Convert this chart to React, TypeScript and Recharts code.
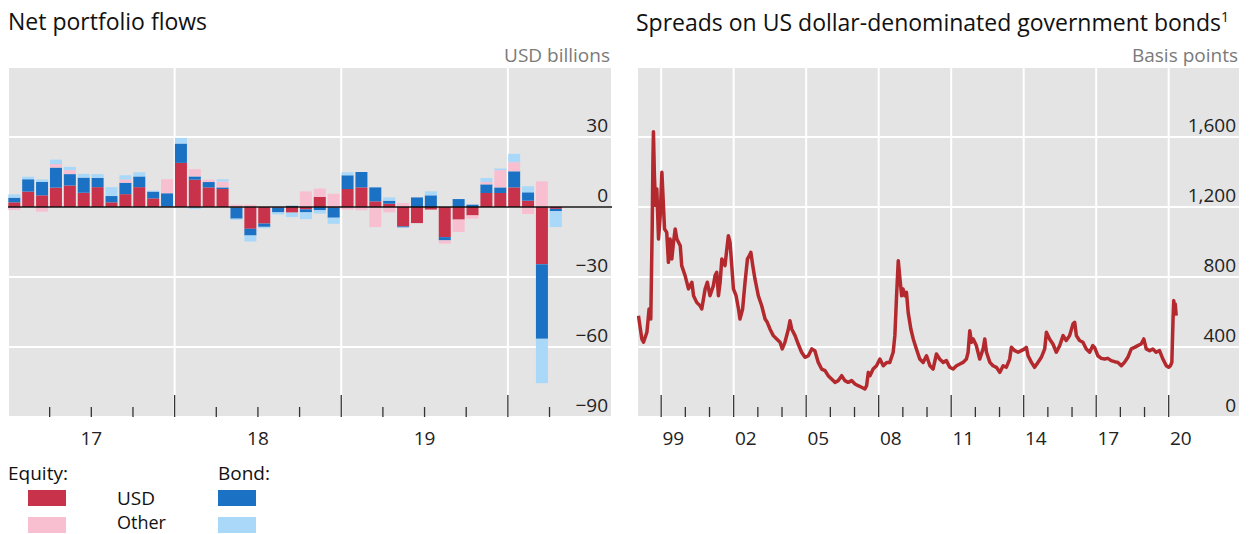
import React from 'react';
import { BarChart, Bar, LineChart, Line, XAxis, YAxis, CartesianGrid, ReferenceLine } from 'recharts';

// monthly net flows, Jan 2017 - Apr 2020, USD billions
const flowStartYear = 2017;
const equityUsd = [
  2.0, 6.6, 5.0, 8.3, 9.2, 6.1, 8.5, 2.0, 5.5, 8.5, 3.7, 0.3,
  18.9, 11.7, 8.4, 7.7, -0.3, -9.3, -7.1, -0.3, -2.4, -1.0, 4.3, -0.3,
  7.7, 8.4, 2.4, 1.4, -8.3, -6.9, -1.1, -12.9, -5.4, -3.6, 6.0, 6.0,
  8.4, 2.7, -24.5, -0.8,
];
const bondUsd = [
  2.0, 5.3, 5.8, 8.6, 4.9, 6.5, 4.0, 2.7, 4.9, 4.6, 2.9, 5.6,
  8.3, 1.4, 2.3, 0.7, -4.7, -2.9, -1.4, -2.0, 0.5, -1.3, -1.4, -4.3,
  5.9, 6.6, 6.0, 1.3, -0.4, 4.1, 5.0, -1.4, 3.4, 1.0, 3.7, 2.4,
  6.9, 3.6, -32.0, -1.0,
];
const equityOther = [
  -1.3, 0, -2.0, 1.5, 1.7, 0, 0, 0, 1.4, 0, 0, 6.0,
  0, 3.1, 1.0, 2.5, 1.0, 1.0, 0, 0, 0, 6.7, 3.6, 5.7,
  -1.1, -1.4, -8.6, -2.3, 1.7, 0, 0, -1.4, -5.3, -1.4, 1.0, 7.4,
  3.9, -3.0, 11.0, 0,
];
const bondOther = [
  1.4, 1.1, 1.0, 1.9, 1.4, 1.6, 1.6, 3.8, 1.8, 1.8, 0.4, 0,
  2.4, -0.8, 0, 1.0, -0.5, -2.6, -0.6, -0.9, -1.9, -2.9, -1.4, -2.6,
  1.3, 0, 0, 1.4, 0, 0, 1.7, 0, 0, 0, 1.7, 0.7,
  3.6, 2.6, -19.0, -6.8,
];
const flowYearLabels = ['17', '18', '19'];
const flowYTicks = [30, 0, -30, -60, -90];

// EM sovereign spreads, basis points (decimal year, value)
const spreadTime = [
  1998.06, 1998.20, 1998.27, 1998.41, 1998.50, 1998.57, 1998.63, 1998.66, 1998.68, 1998.72,
  1998.77, 1998.82, 1998.89, 1998.96, 1999.03, 1999.10, 1999.14, 1999.23, 1999.30, 1999.37,
  1999.44, 1999.51, 1999.58, 1999.65, 1999.79, 1999.85, 1999.99, 2000.13, 2000.27, 2000.34,
  2000.47, 2000.61, 2000.68, 2000.82, 2000.91, 2001.02, 2001.16, 2001.23, 2001.30, 2001.37,
  2001.44, 2001.51, 2001.64, 2001.78, 2001.85, 2001.92, 2001.99, 2002.10, 2002.20, 2002.26,
  2002.37, 2002.47, 2002.57, 2002.65, 2002.71, 2002.79, 2002.88, 2003.02, 2003.16, 2003.30,
  2003.39, 2003.50, 2003.64, 2003.78, 2003.92, 2004.01, 2004.12, 2004.26, 2004.33, 2004.40,
  2004.54, 2004.67, 2004.81, 2004.95, 2005.09, 2005.23, 2005.36, 2005.50, 2005.64, 2005.78,
  2005.91, 2006.05, 2006.19, 2006.33, 2006.47, 2006.60, 2006.74, 2006.88, 2007.02, 2007.15,
  2007.29, 2007.43, 2007.50, 2007.57, 2007.64, 2007.77, 2007.91, 2008.05, 2008.19, 2008.33,
  2008.46, 2008.60, 2008.67, 2008.74, 2008.81, 2008.88, 2008.95, 2009.01, 2009.08, 2009.15,
  2009.22, 2009.33, 2009.43, 2009.56, 2009.70, 2009.84, 2009.98, 2010.12, 2010.25, 2010.39,
  2010.53, 2010.67, 2010.80, 2010.94, 2011.08, 2011.22, 2011.36, 2011.49, 2011.63, 2011.70,
  2011.77, 2011.84, 2011.91, 2012.04, 2012.18, 2012.32, 2012.39, 2012.46, 2012.60, 2012.73,
  2012.87, 2013.01, 2013.15, 2013.28, 2013.42, 2013.49, 2013.63, 2013.77, 2013.90, 2014.04,
  2014.11, 2014.18, 2014.32, 2014.45, 2014.59, 2014.73, 2014.87, 2014.94, 2015.07, 2015.21,
  2015.35, 2015.49, 2015.63, 2015.76, 2015.90, 2016.04, 2016.11, 2016.18, 2016.31, 2016.45,
  2016.59, 2016.73, 2016.86, 2016.93, 2017.07, 2017.21, 2017.35, 2017.48, 2017.62, 2017.76,
  2017.90, 2018.04, 2018.17, 2018.31, 2018.45, 2018.59, 2018.72, 2018.86, 2018.97, 2019.07,
  2019.21, 2019.34, 2019.48, 2019.62, 2019.76, 2019.90, 2020.00, 2020.07, 2020.13, 2020.18,
  2020.21, 2020.24, 2020.27, 2020.31,
];
const spreadValues = [
  579, 446, 427, 484, 617, 560, 1093, 1474, 1630, 1379,
  1208, 1303, 1017, 1150, 1398, 1189, 1074, 1055, 884, 1017,
  903, 998, 1074, 1017, 979, 865, 808, 732, 770, 693,
  655, 636, 617, 732, 770, 693, 751, 808, 827, 693,
  770, 903, 865, 1036, 998, 865, 732, 693, 617, 560,
  617, 770, 903, 922, 941, 865, 789, 693, 636, 560,
  541, 503, 465, 446, 427, 389, 427, 500, 550, 503,
  465, 417, 370, 341, 350, 389, 379, 312, 274, 265,
  236, 217, 198, 208, 236, 208, 198, 208, 189, 179,
  170, 160, 179, 255, 236, 274, 293, 331, 293, 312,
  312, 370, 465, 693, 893, 789, 693, 731, 693, 712,
  598, 503, 446, 389, 331, 312, 350, 293, 274, 360,
  330, 312, 322, 284, 274, 293, 303, 312, 331, 370,
  493, 427, 446, 408, 331, 389, 446, 370, 312, 293,
  284, 255, 293, 284, 331, 398, 379, 370, 379, 389,
  398, 350, 312, 284, 312, 341, 389, 484, 446, 417,
  370, 408, 465, 437, 465, 531, 541, 465, 437, 427,
  389, 370, 408, 398, 350, 335, 331, 335, 322, 316,
  312, 293, 312, 341, 389, 398, 408, 417, 446, 389,
  379, 389, 370, 379, 331, 293, 284, 293, 312, 560,
  665, 598, 646, 579,
];
const spreadYearLabels = ['99', '02', '05', '08', '11', '14', '17', '20'];
const spreadYTicks = [0, 400, 800, 1200, 1600];

const flowGridX = [12, 24, 36];
const spreadGridX = [1999, 2002, 2005, 2008, 2011, 2014, 2017, 2020];

const FONT = '"Open Sans", "Noto Sans", sans-serif';
const RED = '#C8324A';
const PINK = '#F8BFD1';
const BLUE = '#1B72C4';
const LIGHT_BLUE = '#A9D8F8';
const LINE_RED = '#B3292D';
const PANEL_BG = '#E4E4E4';

const flowData = equityUsd.map((v, i) => ({
  m: i + 0.45,
  month: `${flowStartYear + Math.floor(i / 12)}-${String((i % 12) + 1).padStart(2, '0')}`,
  equityUsd: v,
  bondUsd: bondUsd[i],
  equityOther: equityOther[i],
  bondOther: bondOther[i],
}));

const spreadData = spreadTime.map((t, i) => ({ t, v: spreadValues[i] }));

const flowTicks: number[] = [];
for (let m = 3; m <= 39; m += 3) flowTicks.push(m);

const spreadTicks: number[] = [];
for (let y = 1999; y <= 2020; y++) spreadTicks.push(y);
for (let y = 1999; y <= 2020; y += 3) spreadTicks.push(y + 0.5);

const fmtNum = (v: number) =>
  (v < 0 ? '\u2212' : '') + Math.abs(v).toLocaleString('en-US');

const YTick = (props: any) => {
  const { x, y, payload } = props;
  return (
    <text x={x} y={y - 5} textAnchor="end" fontSize={19} fill="#222" fontFamily={FONT}>
      {fmtNum(payload.value)}
    </text>
  );
};

const FlowXTick = (props: any) => {
  const { x, y, payload } = props;
  const m = payload.value;
  const major = m % 12 === 0;
  const label = m % 12 === 6 ? flowYearLabels[(m - 6) / 12] : null;
  return (
    <g>
      <line x1={x} x2={x} y1={y - (major ? 22 : 10)} y2={y} stroke="#333" strokeWidth={1.3} />
      {label && (
        <text x={x} y={y + 28} textAnchor="middle" fontSize={19} fill="#222" fontFamily={FONT}>
          {label}
        </text>
      )}
    </g>
  );
};

const SpreadXTick = (props: any) => {
  const { x, y, payload } = props;
  const v = payload.value;
  if (Number.isInteger(v)) {
    const major = (v - 1999) % 3 === 0;
    return <line x1={x} x2={x} y1={y - (major ? 22 : 10)} y2={y} stroke="#333" strokeWidth={1.3} />;
  }
  const label = spreadYearLabels[Math.round((v - 1999.5) / 3)];
  return (
    <text x={x} y={y + 28} textAnchor="middle" fontSize={19} fill="#222" fontFamily={FONT}>
      {label}
    </text>
  );
};

const text = (s: React.CSSProperties): React.CSSProperties => ({
  position: 'absolute',
  fontFamily: FONT,
  whiteSpace: 'nowrap',
  lineHeight: 1,
  ...s,
});

const swatch = (left: number, top: number, color: string): React.CSSProperties => ({
  position: 'absolute',
  left,
  top,
  width: 38,
  height: 16,
  background: color,
});

export default function App() {
  return (
    <div style={{ position: 'absolute', left: 0, top: 0, width: 1254, height: 534, background: '#fff', overflow: 'hidden' }}>
      <div style={text({ left: 8, top: 10, fontSize: 23, color: '#111' })}>Net portfolio flows</div>
      <div style={text({ right: 1254 - 610, top: 46, fontSize: 19, color: '#7a7a7a' })}>USD billions</div>
      <div style={text({ left: 636, top: 10, fontSize: 23, color: '#111' })}>
        Spreads on US dollar-denominated government bonds<sup style={{ fontSize: 14, verticalAlign: 9 }}>1</sup>
      </div>
      <div style={text({ right: 1254 - 1238, top: 46, fontSize: 19, color: '#7a7a7a' })}>Basis points</div>

      <div style={{ position: 'absolute', left: 0, top: 0 }}>
        <BarChart
          width={620}
          height={460}
          data={flowData}
          stackOffset="sign"
          margin={{ top: 67, right: 8, left: 8, bottom: 13 }}
        >
          <CartesianGrid xAxisId="grid" fill={PANEL_BG} stroke="#fff" strokeWidth={2} />
          <XAxis
            xAxisId="grid"
            dataKey="m"
            type="number"
            domain={[0, 43.5]}
            ticks={flowGridX}
            interval={0}
            hide
            allowDataOverflow
          />
          <XAxis
            dataKey="m"
            type="number"
            domain={[0, 43.5]}
            ticks={flowTicks}
            interval={0}
            tick={<FlowXTick />}
            tickLine={false}
            axisLine={false}
            tickSize={0}
            tickMargin={0}
            height={30}
            allowDataOverflow
          />
          <YAxis
            orientation="right"
            mirror
            width={40}
            domain={[-90, 60]}
            ticks={flowYTicks}
            interval={0}
            tick={<YTick />}
            tickLine={false}
            axisLine={false}
            tickSize={0}
            tickMargin={4}
            allowDataOverflow
          />
          <Bar dataKey="equityUsd" stackId="a" fill={RED} barSize={12} isAnimationActive={false} />
          <Bar dataKey="bondUsd" stackId="a" fill={BLUE} barSize={12} isAnimationActive={false} />
          <Bar dataKey="equityOther" stackId="a" fill={PINK} barSize={12} isAnimationActive={false} />
          <Bar dataKey="bondOther" stackId="a" fill={LIGHT_BLUE} barSize={12} isAnimationActive={false} />
          <ReferenceLine y={0} stroke="#111" strokeWidth={1.6} />
        </BarChart>
      </div>

      <div style={{ position: 'absolute', left: 629, top: 0 }}>
        <LineChart width={620} height={460} data={spreadData} margin={{ top: 67, right: 9, left: 8, bottom: 13 }}>
          <CartesianGrid xAxisId="grid" fill={PANEL_BG} stroke="#fff" strokeWidth={2} />
          <XAxis
            xAxisId="grid"
            dataKey="t"
            type="number"
            domain={[1998, 2022.95]}
            ticks={spreadGridX}
            interval={0}
            hide
            allowDataOverflow
          />
          <XAxis
            dataKey="t"
            type="number"
            domain={[1998, 2022.95]}
            ticks={spreadTicks}
            interval={0}
            tick={<SpreadXTick />}
            tickLine={false}
            axisLine={false}
            tickSize={0}
            tickMargin={0}
            height={30}
            allowDataOverflow
          />
          <YAxis
            orientation="right"
            mirror
            width={40}
            domain={[0, 2000]}
            ticks={spreadYTicks}
            interval={0}
            tick={<YTick />}
            tickLine={false}
            axisLine={false}
            tickSize={0}
            tickMargin={4}
            allowDataOverflow
          />
          <Line
            dataKey="v"
            type="linear"
            stroke={LINE_RED}
            strokeWidth={3.5}
            strokeLinejoin="round"
            dot={false}
            isAnimationActive={false}
          />
        </LineChart>
      </div>

      <div style={text({ left: 8, top: 464, fontSize: 19, color: '#111' })}>Equity:</div>
      <div style={text({ left: 218, top: 464, fontSize: 19, color: '#111' })}>Bond:</div>
      <div style={swatch(28, 490, RED)} />
      <div style={swatch(28, 517, PINK)} />
      <div style={swatch(218, 490, BLUE)} />
      <div style={swatch(218, 517, LIGHT_BLUE)} />
      <div style={text({ left: 117, top: 489, fontSize: 19, color: '#111' })}>USD</div>
      <div style={text({ left: 117, top: 512, fontSize: 18, lineHeight: '20px', color: '#111' })}>Other</div>
    </div>
  );
}
